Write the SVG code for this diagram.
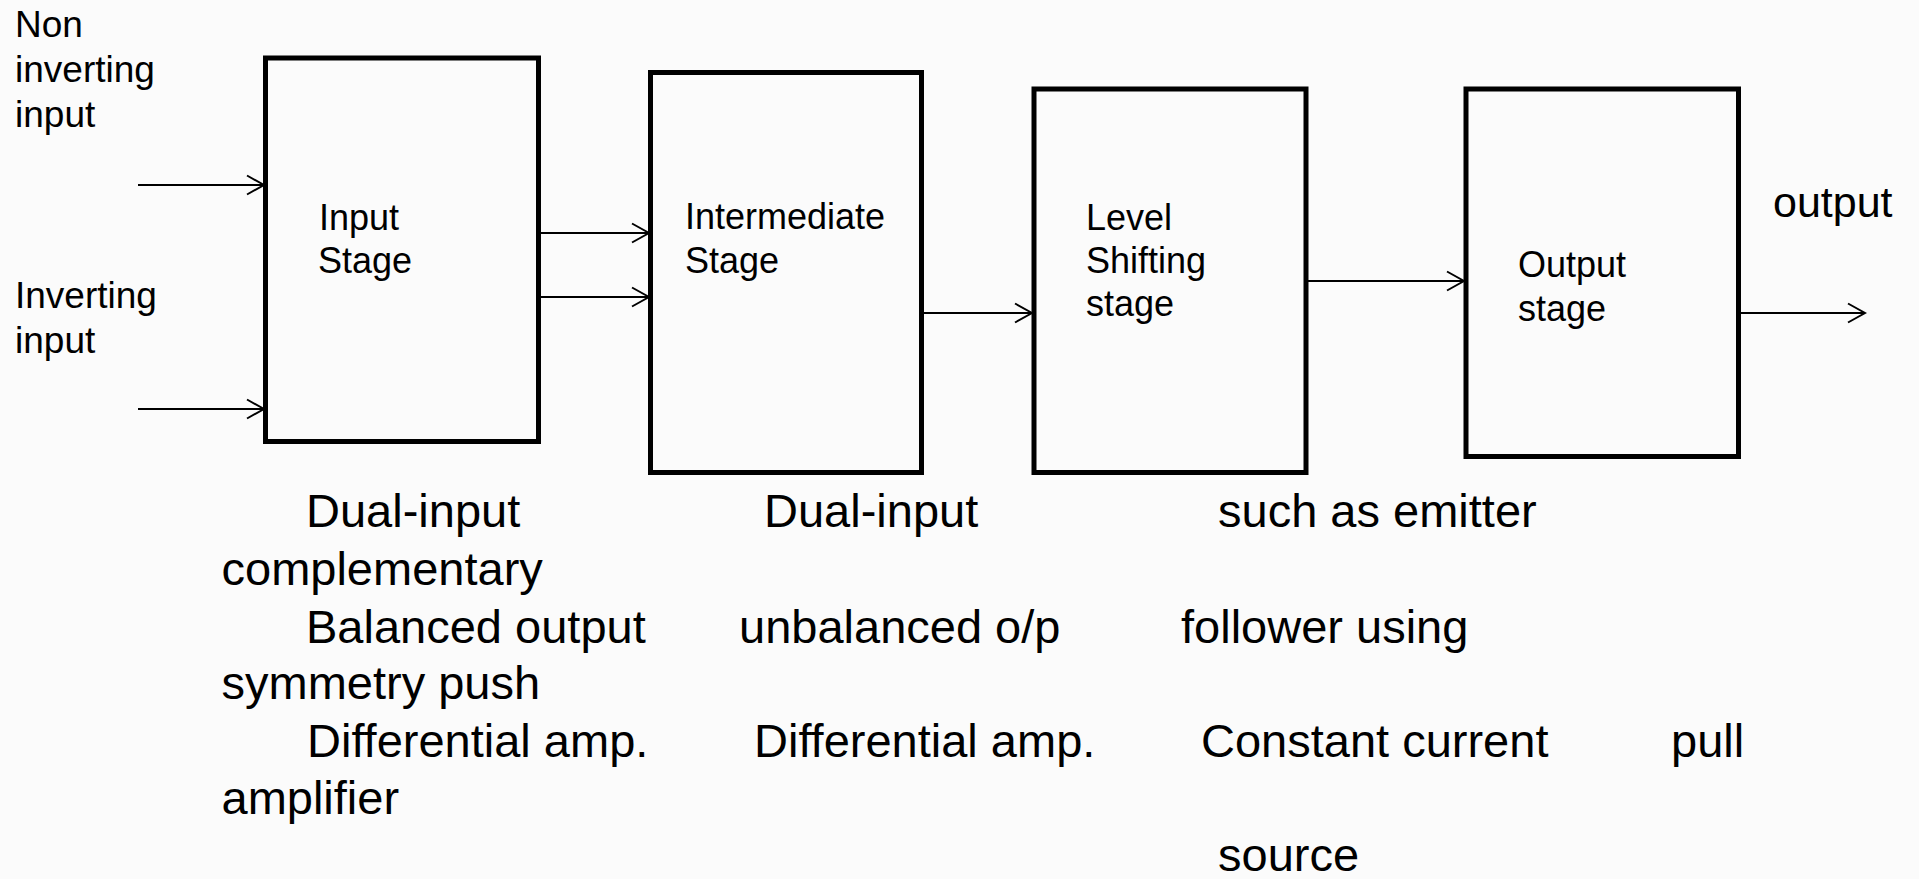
<svg xmlns="http://www.w3.org/2000/svg" width="1919" height="879" viewBox="0 0 1919 879">
  <style>
    .box { fill: none; stroke: #000; stroke-width: 5; }
    .conn { stroke: #000; stroke-width: 2; fill: none; marker-end: url(#arr); }
    text { font-family: "Liberation Sans", Arial, sans-serif; fill: #000; }
    .lbl { font-size: 37px; }
    .node { font-size: 36px; }
    .out { font-size: 43px; }
    .note { font-size: 47px; }
  </style>
  <defs>
    <marker id="arr" markerWidth="20" markerHeight="22" refX="18" refY="11" orient="auto" markerUnits="userSpaceOnUse">
      <path d="M1,1.5 L18,11 L1,20.5" fill="none" stroke="#000" stroke-width="2"/>
    </marker>
  </defs>
  <rect x="0" y="0" width="1919" height="879" fill="#fbfbfb"/>

  <g id="input-labels">
    <text class="lbl" x="15" y="37">Non</text>
    <text class="lbl" x="15" y="82">inverting</text>
    <text class="lbl" x="15" y="127">input</text>
    <text class="lbl" x="15" y="308">Inverting</text>
    <text class="lbl" x="15" y="353">input</text>
  </g>

  <g id="node-input-stage">
    <rect class="box" x="265.5" y="58" width="273" height="383.5"/>
    <text class="node" x="319" y="230">Input</text>
    <text class="node" x="318" y="273">Stage</text>
  </g>

  <g id="node-intermediate-stage">
    <rect class="box" x="650.5" y="72.5" width="271" height="400"/>
    <text class="node" x="685" y="229">Intermediate</text>
    <text class="node" x="685" y="273">Stage</text>
  </g>

  <g id="node-level-shifting-stage">
    <rect class="box" x="1034" y="89" width="272" height="383.5"/>
    <text class="node" x="1086" y="230">Level</text>
    <text class="node" x="1086" y="273">Shifting</text>
    <text class="node" x="1086" y="316">stage</text>
  </g>

  <g id="node-output-stage">
    <rect class="box" x="1466" y="89" width="272.5" height="367.5"/>
    <text class="node" x="1518" y="277">Output</text>
    <text class="node" x="1518" y="321">stage</text>
  </g>

  <g id="output-label">
    <text class="out" x="1773" y="217">output</text>
  </g>

  <g id="connectors">
    <line class="conn" x1="138" y1="185" x2="264" y2="185"/>
    <line class="conn" x1="138" y1="409" x2="264" y2="409"/>
    <line class="conn" x1="541" y1="233" x2="649" y2="233"/>
    <line class="conn" x1="541" y1="297" x2="649" y2="297"/>
    <line class="conn" x1="924" y1="313" x2="1032" y2="313"/>
    <line class="conn" x1="1308" y1="281" x2="1464" y2="281"/>
    <line class="conn" x1="1741" y1="313" x2="1865" y2="313"/>
  </g>

  <g id="notes">
    <text class="note" y="527"><tspan x="306">Dual-input</tspan><tspan x="764">Dual-input</tspan><tspan x="1218">such as emitter</tspan></text>
    <text class="note" x="221.5" y="585">complementary</text>
    <text class="note" y="643"><tspan x="306">Balanced output</tspan><tspan x="739">unbalanced o/p</tspan><tspan x="1181">follower using</tspan></text>
    <text class="note" x="221.5" y="699">symmetry push</text>
    <text class="note" y="757"><tspan x="307">Differential amp.</tspan><tspan x="754">Differential amp.</tspan><tspan x="1201">Constant current</tspan><tspan x="1671">pull</tspan></text>
    <text class="note" x="221.5" y="814">amplifier</text>
    <text class="note" x="1218" y="871">source</text>
  </g>
</svg>
